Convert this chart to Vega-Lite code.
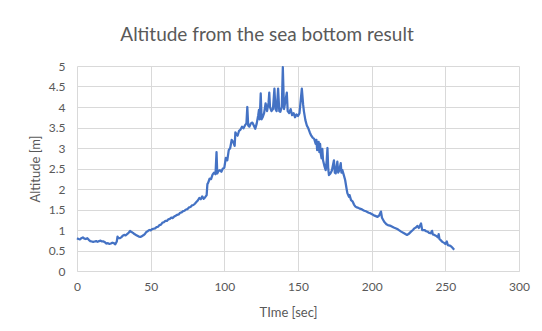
{
  "$schema": "https://vega.github.io/schema/vega-lite/v6.json",
  "width": 442,
  "height": 205,
  "autosize": {"type": "none"},
  "padding": {"left": 77, "top": 66, "right": 23, "bottom": 60},
  "background": "white",
  "config": {
    "font": "Lato",
    "view": {"stroke": null},
    "axis": {
      "labelFont": "Lato", "titleFont": "Lato",
      "labelColor": "#595959", "titleColor": "#595959",
      "labelFontSize": 12, "titleFontSize": 13, "titleFontWeight": "normal",
      "gridColor": "#D9D9D9", "gridWidth": 1, "domainColor": "#D9D9D9",
      "ticks": false
    }
  },
  "title": {
    "text": "Altitude from the sea bottom result",
    "font": "Lato", "fontSize": 19, "fontWeight": "normal", "color": "#595959",
    "anchor": "middle", "dx": -31, "dy": 22, "offset": 22, "baseline": "alphabetic"
  },
  "data": {
    "values": [
      {"t": 0, "alt": 0.80}, {"t": 1, "alt": 0.78}, {"t": 2, "alt": 0.77}, {"t": 3, "alt": 0.80},
      {"t": 4, "alt": 0.82}, {"t": 5, "alt": 0.79}, {"t": 6, "alt": 0.78}, {"t": 7, "alt": 0.80},
      {"t": 8, "alt": 0.76}, {"t": 9, "alt": 0.73}, {"t": 10, "alt": 0.72}, {"t": 11, "alt": 0.71},
      {"t": 12, "alt": 0.72}, {"t": 13, "alt": 0.73}, {"t": 14, "alt": 0.71}, {"t": 15, "alt": 0.73},
      {"t": 16, "alt": 0.74}, {"t": 17, "alt": 0.72}, {"t": 18, "alt": 0.72}, {"t": 19, "alt": 0.70},
      {"t": 20, "alt": 0.67}, {"t": 21, "alt": 0.68}, {"t": 22, "alt": 0.66}, {"t": 23, "alt": 0.67},
      {"t": 24, "alt": 0.69}, {"t": 25, "alt": 0.68}, {"t": 26, "alt": 0.65}, {"t": 27, "alt": 0.72},
      {"t": 27.5, "alt": 0.84}, {"t": 28, "alt": 0.80}, {"t": 29, "alt": 0.80}, {"t": 30, "alt": 0.82},
      {"t": 31, "alt": 0.86}, {"t": 32, "alt": 0.88}, {"t": 33, "alt": 0.87}, {"t": 34, "alt": 0.90},
      {"t": 35, "alt": 0.93}, {"t": 36, "alt": 0.98}, {"t": 37, "alt": 0.95}, {"t": 38, "alt": 0.93},
      {"t": 39, "alt": 0.90}, {"t": 40, "alt": 0.88}, {"t": 41, "alt": 0.86}, {"t": 42, "alt": 0.84},
      {"t": 43, "alt": 0.83}, {"t": 44, "alt": 0.85}, {"t": 45, "alt": 0.87}, {"t": 46, "alt": 0.90},
      {"t": 47, "alt": 0.95}, {"t": 48, "alt": 0.97}, {"t": 49, "alt": 1.00}, {"t": 50, "alt": 0.99},
      {"t": 51, "alt": 1.02}, {"t": 52, "alt": 1.03}, {"t": 53, "alt": 1.04}, {"t": 54, "alt": 1.07},
      {"t": 55, "alt": 1.08}, {"t": 56, "alt": 1.12}, {"t": 57, "alt": 1.13}, {"t": 58, "alt": 1.18},
      {"t": 59, "alt": 1.19}, {"t": 60, "alt": 1.22}, {"t": 61, "alt": 1.22}, {"t": 62, "alt": 1.26},
      {"t": 63, "alt": 1.27}, {"t": 64, "alt": 1.30}, {"t": 65, "alt": 1.29}, {"t": 66, "alt": 1.33},
      {"t": 67, "alt": 1.35}, {"t": 68, "alt": 1.37}, {"t": 69, "alt": 1.38}, {"t": 70, "alt": 1.42},
      {"t": 71, "alt": 1.43}, {"t": 72, "alt": 1.46}, {"t": 73, "alt": 1.47}, {"t": 74, "alt": 1.50},
      {"t": 75, "alt": 1.51}, {"t": 76, "alt": 1.55}, {"t": 77, "alt": 1.56}, {"t": 78, "alt": 1.60},
      {"t": 79, "alt": 1.61}, {"t": 80, "alt": 1.64}, {"t": 81, "alt": 1.68},
      {"t": 82, "alt": 1.72}, {"t": 83, "alt": 1.78}, {"t": 84, "alt": 1.75}, {"t": 85, "alt": 1.82},
      {"t": 86, "alt": 1.76}, {"t": 87, "alt": 1.80}, {"t": 88, "alt": 1.85}, {"t": 88.5, "alt": 2.12},
      {"t": 89, "alt": 2.15}, {"t": 90, "alt": 2.25}, {"t": 91, "alt": 2.24}, {"t": 92, "alt": 2.35},
      {"t": 93, "alt": 2.40}, {"t": 94, "alt": 2.36}, {"t": 94.7, "alt": 2.90}, {"t": 95.2, "alt": 2.38},
      {"t": 96, "alt": 2.44}, {"t": 97, "alt": 2.46}, {"t": 98, "alt": 2.42}, {"t": 99, "alt": 2.50},
      {"t": 100, "alt": 2.52}, {"t": 101, "alt": 2.76}, {"t": 102, "alt": 2.70}, {"t": 103, "alt": 2.95},
      {"t": 104, "alt": 3.00}, {"t": 105, "alt": 3.20}, {"t": 106, "alt": 3.15}, {"t": 107, "alt": 3.05},
      {"t": 107.5, "alt": 3.38}, {"t": 108, "alt": 3.35}, {"t": 109, "alt": 3.30}, {"t": 110, "alt": 3.42},
      {"t": 111, "alt": 3.45}, {"t": 112, "alt": 3.52}, {"t": 113, "alt": 3.48}, {"t": 114, "alt": 3.55},
      {"t": 115, "alt": 3.60}, {"t": 115.6, "alt": 4.00}, {"t": 116.2, "alt": 3.55}, {"t": 117, "alt": 3.52},
      {"t": 118, "alt": 3.60}, {"t": 119, "alt": 3.62}, {"t": 120, "alt": 3.55}, {"t": 121, "alt": 3.47},
      {"t": 122, "alt": 3.60}, {"t": 123, "alt": 3.80}, {"t": 123.5, "alt": 3.93}, {"t": 124, "alt": 3.70},
      {"t": 124.7, "alt": 4.33}, {"t": 125.3, "alt": 3.70}, {"t": 126, "alt": 3.75}, {"t": 127, "alt": 3.85},
      {"t": 128, "alt": 4.09}, {"t": 129, "alt": 3.90}, {"t": 130, "alt": 4.10}, {"t": 130.5, "alt": 4.35},
      {"t": 131, "alt": 4.00}, {"t": 132, "alt": 3.90}, {"t": 133, "alt": 3.95}, {"t": 134, "alt": 4.45},
      {"t": 134.7, "alt": 3.95}, {"t": 135.5, "alt": 3.90}, {"t": 136.5, "alt": 4.45}, {"t": 137.3, "alt": 3.90},
      {"t": 138, "alt": 3.88}, {"t": 139, "alt": 4.00}, {"t": 139.7, "alt": 4.97}, {"t": 140.5, "alt": 3.95},
      {"t": 141, "alt": 4.05}, {"t": 142.4, "alt": 4.35}, {"t": 143, "alt": 3.90}, {"t": 144, "alt": 3.85},
      {"t": 145, "alt": 3.95}, {"t": 146, "alt": 3.80}, {"t": 147, "alt": 3.85}, {"t": 148, "alt": 3.75},
      {"t": 149, "alt": 3.82}, {"t": 150, "alt": 3.78}, {"t": 151, "alt": 3.85}, {"t": 152.6, "alt": 4.45},
      {"t": 153.5, "alt": 4.05}, {"t": 154, "alt": 3.90}, {"t": 155, "alt": 3.68}, {"t": 156, "alt": 3.55},
      {"t": 157, "alt": 3.48}, {"t": 158, "alt": 3.38}, {"t": 159, "alt": 3.30}, {"t": 160, "alt": 3.25},
      {"t": 161, "alt": 3.22}, {"t": 162, "alt": 3.10}, {"t": 162.5, "alt": 3.20}, {"t": 163, "alt": 2.95},
      {"t": 164, "alt": 3.15}, {"t": 164.5, "alt": 2.90}, {"t": 165, "alt": 3.10}, {"t": 165.5, "alt": 2.85},
      {"t": 166, "alt": 2.75}, {"t": 166.5, "alt": 2.98}, {"t": 167, "alt": 2.70}, {"t": 168, "alt": 2.55},
      {"t": 168.8, "alt": 2.46}, {"t": 169.5, "alt": 2.70}, {"t": 170, "alt": 3.00}, {"t": 170.5, "alt": 2.50},
      {"t": 171, "alt": 2.34}, {"t": 172, "alt": 2.38}, {"t": 173, "alt": 2.45}, {"t": 174.4, "alt": 2.70},
      {"t": 175, "alt": 2.40}, {"t": 175.6, "alt": 2.38}, {"t": 176.7, "alt": 2.67}, {"t": 177.3, "alt": 2.40},
      {"t": 178, "alt": 2.45}, {"t": 179, "alt": 2.63}, {"t": 179.5, "alt": 2.40}, {"t": 180.1, "alt": 2.46},
      {"t": 181, "alt": 2.35}, {"t": 182, "alt": 2.22}, {"t": 183, "alt": 2.00}, {"t": 183.5, "alt": 1.90},
      {"t": 184.6, "alt": 1.81}, {"t": 185, "alt": 1.85}, {"t": 186, "alt": 1.73}, {"t": 187, "alt": 1.70},
      {"t": 188, "alt": 1.62}, {"t": 189, "alt": 1.57}, {"t": 190, "alt": 1.55}, {"t": 191, "alt": 1.54},
      {"t": 192, "alt": 1.52}, {"t": 193, "alt": 1.51},
      {"t": 194, "alt": 1.49}, {"t": 195, "alt": 1.47}, {"t": 196, "alt": 1.46}, {"t": 197, "alt": 1.44},
      {"t": 198, "alt": 1.42}, {"t": 199, "alt": 1.41}, {"t": 200, "alt": 1.39},
      {"t": 202, "alt": 1.35}, {"t": 204, "alt": 1.32}, {"t": 205, "alt": 1.35}, {"t": 206.3, "alt": 1.45},
      {"t": 207, "alt": 1.30}, {"t": 208.5, "alt": 1.20}, {"t": 210, "alt": 1.14}, {"t": 211, "alt": 1.12},
      {"t": 213, "alt": 1.10}, {"t": 215, "alt": 1.06}, {"t": 217, "alt": 1.03}, {"t": 218, "alt": 1.01},
      {"t": 220, "alt": 0.96}, {"t": 222, "alt": 0.92}, {"t": 224, "alt": 0.88}, {"t": 225, "alt": 0.90},
      {"t": 226.7, "alt": 0.96}, {"t": 228, "alt": 1.00}, {"t": 229, "alt": 1.04}, {"t": 230, "alt": 1.06},
      {"t": 231, "alt": 1.10}, {"t": 232, "alt": 1.05}, {"t": 233.5, "alt": 1.16}, {"t": 234.3, "alt": 1.00},
      {"t": 235.8, "alt": 1.00}, {"t": 237, "alt": 0.97}, {"t": 238, "alt": 0.96}, {"t": 239, "alt": 0.93},
      {"t": 240, "alt": 0.92}, {"t": 241, "alt": 0.98}, {"t": 241.5, "alt": 0.89}, {"t": 242.6, "alt": 0.88},
      {"t": 244, "alt": 0.85}, {"t": 245, "alt": 0.82}, {"t": 245.5, "alt": 0.90}, {"t": 246, "alt": 0.78},
      {"t": 247.2, "alt": 0.74}, {"t": 248, "alt": 0.71}, {"t": 249.4, "alt": 0.68}, {"t": 250, "alt": 0.66},
      {"t": 251, "alt": 0.72}, {"t": 251.7, "alt": 0.63}, {"t": 253, "alt": 0.62}, {"t": 254, "alt": 0.60},
      {"t": 255, "alt": 0.56}, {"t": 256, "alt": 0.52}
    ]
  },
  "mark": {"type": "line", "color": "#4472C4", "strokeWidth": 2.25, "strokeJoin": "round"},
  "encoding": {
    "x": {
      "field": "t", "type": "quantitative",
      "scale": {"domain": [0, 300], "nice": false},
      "axis": {"title": "TIme [sec]", "values": [0, 50, 100, 150, 200, 250, 300], "labelPadding": 10, "titlePadding": 14, "titleX": 211, "labelFlush": false}
    },
    "y": {
      "field": "alt", "type": "quantitative",
      "scale": {"domain": [0, 5], "nice": false},
      "axis": {"title": "Altitude [m]", "values": [0, 0.5, 1, 1.5, 2, 2.5, 3, 3.5, 4, 4.5, 5], "format": ".1~f", "labelPadding": 12, "titlePadding": 6, "domain": false}
    }
  }
}
